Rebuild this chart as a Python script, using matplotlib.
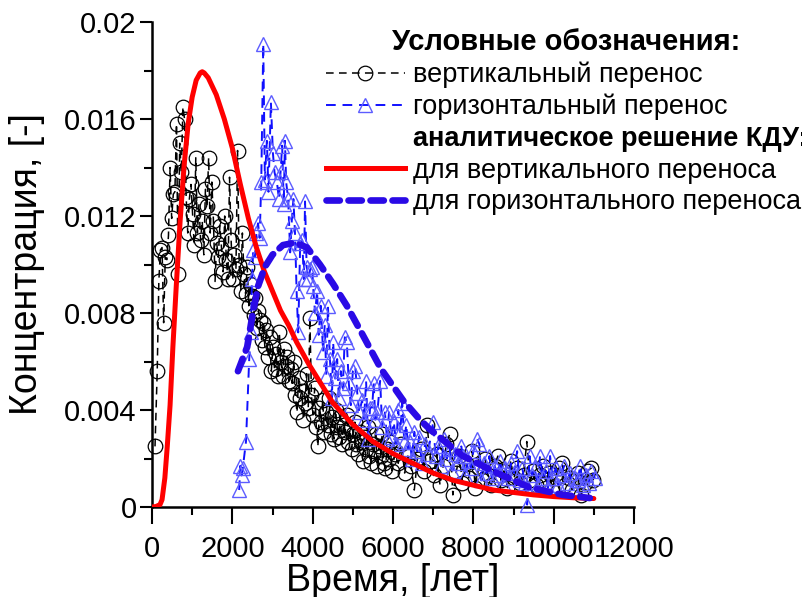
import matplotlib
matplotlib.use("Agg")
import matplotlib.pyplot as plt
from matplotlib.lines import Line2D

plt.rcParams['font.family'] = ['Liberation Sans', 'DejaVu Sans']

# вертикальный перенос (численный расчёт)
vert_t = [75, 130, 170, 210, 250, 290, 330, 370, 410, 450, 490, 530, 570, 610, 650, 690, 730, 770, 810,
          850, 890, 930, 970, 1010, 1050, 1090, 1130, 1170, 1210, 1250, 1290, 1330, 1370, 1410, 1450,
          1490, 1530, 1570, 1610, 1650, 1690, 1730, 1770, 1810, 1850, 1890, 1930, 1970, 2010, 2050,
          2090, 2130, 2170, 2210,
          2250, 2290, 2330, 2370, 2410, 2450, 2490, 2530, 2570, 2610, 2650, 2690, 2730, 2770, 2810,
          2850, 2890, 2930, 2970, 3010,
          3050, 3090, 3130, 3170, 3210, 3250, 3290, 3330, 3370, 3410, 3450, 3490, 3530, 3570, 3610,
          3650, 3690, 3730, 3770, 3810, 3850, 3890, 3930, 3970, 4010, 4050, 4090, 4130, 4170, 4210,
          4250, 4290, 4330, 4370, 4410, 4450, 4490,
          4530, 4570, 4610, 4650, 4690, 4730, 4770, 4810, 4850, 4890, 4930, 4970, 5010, 5050, 5090,
          5130, 5170, 5210, 5250, 5290, 5330, 5370, 5410, 5450, 5490, 5530, 5570, 5610, 5650, 5690,
          5730, 5770, 5810, 5850, 5890, 5930, 5970,
          6050, 6130, 6210, 6290, 6370, 6450, 6530, 6610, 6690, 6770, 6850, 6930, 7010, 7090, 7170,
          7250, 7330, 7410, 7490, 7570, 7650, 7730, 7810, 7890, 7970, 8050, 8130, 8210, 8290, 8370,
          8450, 8530, 8610, 8690, 8770, 8850, 8930, 9010, 9090, 9170, 9250, 9330, 9410, 9490, 9570,
          9650, 9730, 9810, 9890, 9970, 10050, 10130, 10210, 10290, 10370, 10450, 10530, 10610,
          10690, 10770, 10850, 10930, 10990]
vert_c = [.0025, .0056, .0093, .0106, .0107, .0076, .0103, .0102, .0112, .0140, .0119, .0129, .0130,
          .0158, .0096, .0150, .0138, .0165, .0160,
          .0128, .0113, .0127, .0133, .0121, .0108, .0144, .0113, .0125, .0110, .0118, .0104, .0131,
          .0124, .0144, .0113, .0134, .0118, .0093, .0109, .0103, .0116, .0107, .0097, .0120, .0102,
          .0094, .0136, .0110, .0094, .0104, .0098, .0147, .0100, .0089,
          .0113, .0096, .0088, .0099, .0083, .0092, .0087, .0079, .0086, .0074, .0081, .0077, .0069,
          .0076, .0066, .0073, .0062, .0070, .0056, .0066,
          .0057, .0063, .0054, .0072, .0060, .0054, .0065, .0058, .0062, .0052, .0057, .0051, .0060,
          .0046, .0039, .0053, .0045, .0048, .0036, .0043, .0055, .0041, .0078, .0046, .0038, .0049,
          .0033, .0025, .0041, .0035, .0044, .0031, .0039, .0034, .0045, .0030, .0037,
          .0028, .0040, .0033, .0029, .0037, .0026, .0034, .0031, .0038, .0027, .0032, .0024, .0030,
          .0035, .0026, .0022, .0031, .0027, .0019, .0029, .0024, .0033, .0021, .0018, .0026, .0023,
          .0030, .0017, .0025, .0021, .0030, .0018, .0016, .0024, .0020, .0027, .0015,
          .0022, .0018, .0026, .0014, .0021, .0017, .0007, .0020, .0024, .0015, .0034, .0019, .0013,
          .0022, .0009, .0017, .0026, .0030, .0005, .0014, .0021, .0010, .0018, .0012, .0023, .0008,
          .0016, .0011, .0020, .0013, .0009, .0017, .0021, .0011, .0015, .0008, .0019, .0012, .0016,
          .0010, .0013, .0027, .0011, .0015, .0009, .0013, .0017, .0010, .0014, .0008, .0012, .0016,
          .0018, .0009, .0012, .0007, .0011, .0014, .0005, .0010, .0015, .0016, .0011]

# горизонтальный перенос (численный расчёт)
hor_t = [2170, 2200, 2230, 2260, 2340, 2420, 2460, 2490, 2520, 2560, 2600, 2640, 2680, 2720, 2770,
         2810, 2860, 2900, 2960, 3010, 3050, 3110, 3160, 3200, 3240, 3280, 3310, 3340, 3390, 3440,
         3480, 3520, 3560, 3600, 3640, 3690, 3740, 3780, 3810, 3850, 3890, 3940, 3990, 4010, 4060,
         4110, 4150, 4200, 4260, 4300, 4340, 4380, 4430, 4480, 4510, 4560, 4610, 4650, 4700, 4750,
         4800, 4850, 4900, 4950, 5000, 5060, 5110, 5160, 5230, 5280, 5330, 5380, 5430, 5480, 5520,
         5560, 5610, 5680, 5730, 5800, 5850, 5900, 5960, 6020, 6080, 6130, 6180, 6230, 6280, 6330,
         6380, 6420, 6470, 6530, 6600, 6650, 6720, 6800, 6870, 7000, 7060, 7130, 7200, 7270, 7340,
         7410, 7480, 7550, 7620, 7700, 7740, 7800, 7870, 7940, 8000, 8090, 8150, 8200, 8260, 8330,
         8400, 8470, 8530, 8600, 8670, 8740, 8800, 8870, 8940, 9010, 9090, 9150, 9220, 9280, 9340,
         9400, 9460, 9530, 9600, 9660, 9730, 9800, 9860, 9910, 9980, 10050, 10120, 10190, 10260,
         10320, 10400, 10470, 10540, 10600, 10660, 10730, 10800, 10870, 10940, 11030]
hor_c = [.0007, .0017, .0013, .0016, .0027, .0061, .0072, .0094, .0106, .0103, .0113, .0117, .0111,
         .0134, .0191, .0135, .0151, .0130, .0167, .0146, .0138, .0134, .0127, .0138, .0149, .0125,
         .0151, .0134, .0127, .0105, .0118, .0127, .0113, .0089, .0072, .0109, .0110, .0094, .0126,
         .0099, .0094, .0098, .0099, .0091, .0080, .0089, .0071, .0083, .0064, .0075, .0054, .0083,
         .0061, .0045, .0068, .0053, .0061, .0045, .0056, .0049, .0070, .0068, .0051, .0042, .0056,
         .0058, .0047, .0039, .0044, .0036, .0052, .0028, .0041, .0041, .0051, .0036, .0039, .0052,
         .0033, .0039, .0028, .0039, .0029, .0035, .0026, .0040, .0031, .0043, .0027, .0034, .0024,
         .0027, .0020, .0031, .0023, .0029, .0018, .0026, .0022, .0035, .0021, .0025, .0017, .0028,
         .0020, .0024, .0015, .0022, .0018, .0025, .0021, .0013, .0019, .0016, .0023, .0028, .0026,
         .0011, .0018, .0014, .0021, .0012, .0017, .0013, .0019, .0010, .0016, .0012, .0018, .0014,
         .0023, .0011, .0016, .0010, .0001, .0021, .0013, .0016, .0009, .0021, .0012, .0015, .0008,
         .0021, .0012, .0016, .0009, .0013, .0017, .0010, .0014, .0008, .0012, .0011, .0017, .0009,
         .0013, .0010, .0015, .0012]

# аналитическое решение КДУ
an_vert_t = [0, 100, 200, 250, 320, 380, 450, 520, 600, 700, 800, 900, 1000, 1100, 1200, 1250, 1300,
             1400, 1600, 1800, 2000, 2200, 2400, 2600, 2800, 3000, 3200, 3400, 3600, 3900, 4200,
             4500, 5000, 5500, 6000, 6500, 7000, 7500, 8000, 8500, 9000, 9500, 10000, 10500, 11000]
an_vert_c = [0, .00002, .0001, .0003, .0012, .0025, .0042, .0066, .0090, .0118, .0141, .0158, .0169,
             .0176, .0179, .01795, .0179, .0177, .0170, .0160, .0148, .0133, .0119, .0107, .0097,
             .0089, .0081, .0075, .0068, .0059, .0051, .0043, .0034, .0027, .0022, .0018, .0014,
             .0011, .0009, .0007, .0006, .0005, .00043, .00038, .00035]
an_hor_t = [2140, 2370, 2490, 2640, 2810, 3000, 3260, 3560, 3860, 4180, 4510, 4850, 5180, 5700, 6250,
            6670, 6920, 7740, 8590, 9410, 10230, 10900]
an_hor_c = [.0056, .0066, .0078, .0091, .0099, .0104, .0108, .0109, .0107, .0100, .0092, .0083, .0073,
            .0057, .0044, .0036, .0032, .0021, .0014, .0008, .0005, .00037]

fig = plt.figure(figsize=(8.02, 5.97), dpi=100)
ax = fig.add_axes([152 / 802, 1 - 507 / 597, 482 / 802, 485 / 597])

ax.plot(vert_t, vert_c, color='black', lw=1.1, dashes=(5, 3.5), marker='o', ms=10.5,
        mfc='none', mec='black', mew=0.9, clip_on=False, zorder=2)
ax.plot(hor_t, hor_c, color='#1010ff', lw=1.4, dashes=(5, 3.5), marker='^', ms=10,
        mfc='none', mec='#5c5cff', mew=1.0, clip_on=False, zorder=3)
ax.plot(an_vert_t, an_vert_c, color='#ff0000', lw=3.6, solid_capstyle='round', zorder=4)
ax.plot(an_hor_t, an_hor_c, color='#2a0ae6', lw=4.8, dashes=(2.0, 1.3),
        dash_capstyle='round', zorder=5)

ax.set_xlim(0, 12000)
ax.set_ylim(0, 0.02)
ax.set_xticks(range(0, 12001, 2000))
ax.set_xticks(range(1000, 12000, 2000), minor=True)
ax.set_yticks([0, 0.004, 0.008, 0.012, 0.016, 0.02])
ax.set_yticklabels(['0', '0.004', '0.008', '0.012', '0.016', '0.02'])
ax.set_yticks([0.002, 0.006, 0.010, 0.014, 0.018], minor=True)

for s in ['top', 'right']:
    ax.spines[s].set_visible(False)
for s in ['left', 'bottom']:
    ax.spines[s].set_linewidth(1.8)

ax.tick_params(axis='x', which='major', length=12, width=1.5, pad=8, labelsize=21)
ax.tick_params(axis='x', which='minor', length=6, width=1.5)
ax.tick_params(axis='y', which='major', length=9, width=1.5, pad=2, labelsize=21)
ax.tick_params(axis='y', which='minor', length=6, width=1.5)

ax.set_xlabel('Время, [лет]', fontsize=27, labelpad=0)
ax.set_ylabel('Концентрация, [-]', fontsize=27, labelpad=14)

handles = [
    Line2D([], [], color='black', lw=1.1, dashes=(5, 3.5), marker='o', ms=10.5, mfc='none',
           mec='black', mew=0.9),
    Line2D([], [], color='#1010ff', lw=1.4, dashes=(5, 3.5), marker='^', ms=10, mfc='none',
           mec='#5c5cff', mew=1.0),
    Line2D([], [], linestyle='none'),
    Line2D([], [], color='#ff0000', lw=3.6),
    Line2D([], [], color='#2a0ae6', lw=4.8, dashes=(2.0, 1.3), dash_capstyle='round'),
]
labels = ['вертикальный перенос', 'горизонтальный перенос', 'аналитическое решение КДУ:',
          'для вертикального переноса', 'для горизонтального переноса']
leg = fig.legend(handles, labels, loc='upper left', bbox_to_anchor=(307 / 802, 1 - 9 / 597),
                 frameon=False, fontsize=19.5, handlelength=2.9, handletextpad=0.3,
                 labelspacing=0.21, borderpad=0.2, numpoints=1,
                 title='Условные обозначения:',
                 title_fontproperties={'weight': 'bold', 'size': 21})
leg.get_texts()[2].set_fontweight('bold')

fig.savefig('out.png', dpi=100)
